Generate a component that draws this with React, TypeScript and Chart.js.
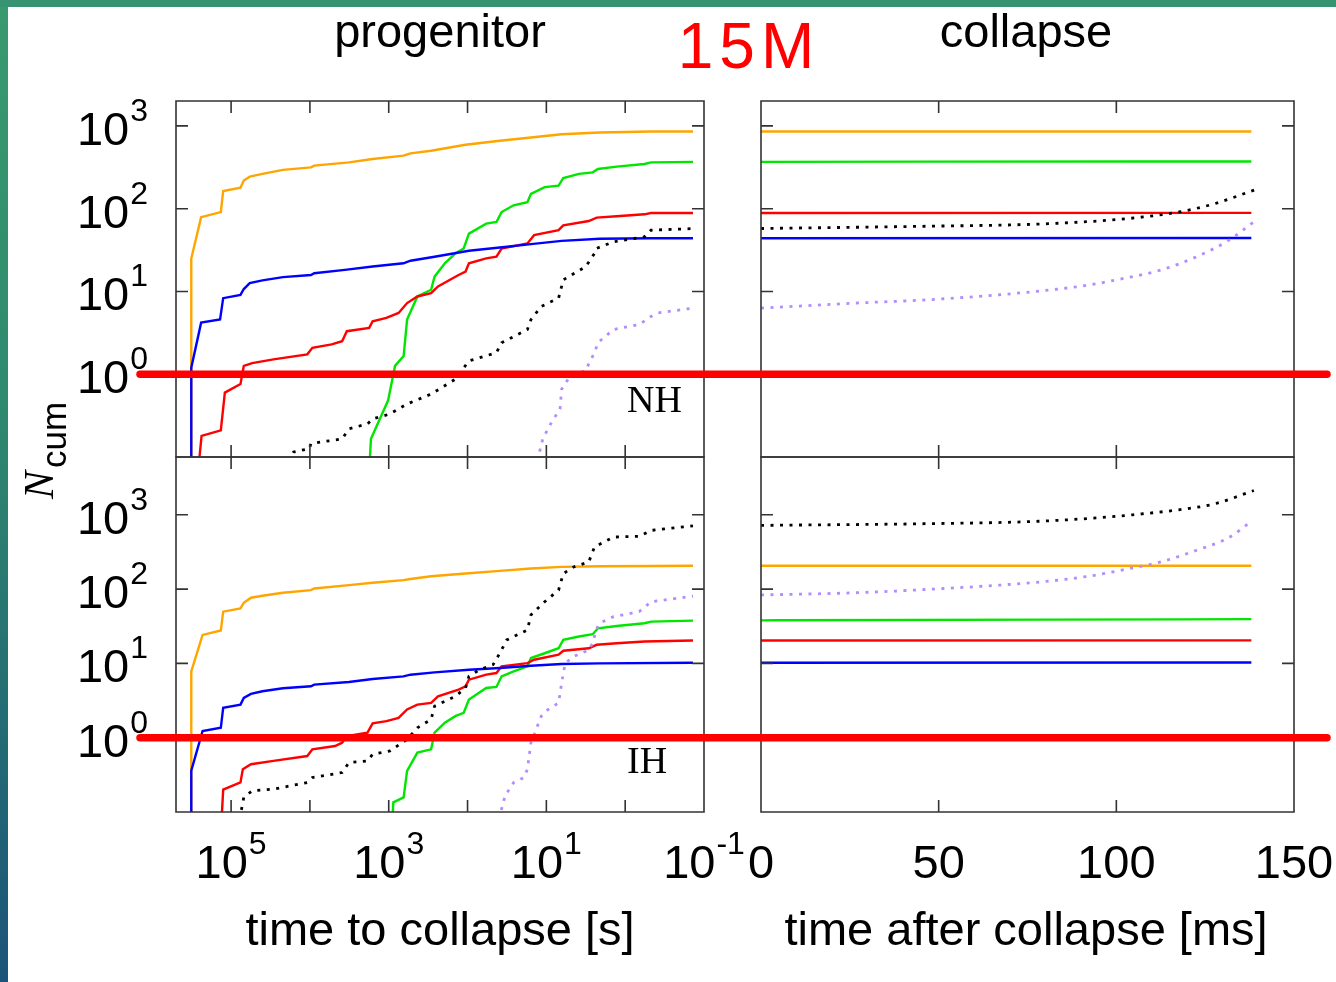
import React, { useEffect, useRef } from 'react';
import { Chart, registerables } from 'chart.js';

Chart.register(...registerables);

const PAGE_W = 1336;
const PAGE_H = 982;

type Pt = [number, number];

// ---------- ticks and ranges ----------
const LEFT_X_TICKS = [1e5, 1e4, 1e3, 1e2, 1e1, 1e0];
const LEFT_X_LABELS = [1e5, 1e3, 1e1, 1e-1];
const RIGHT_X_TICKS = [50, 100];
const RIGHT_X_LABELS = [0, 50, 100, 150];
const Y_TICKS = [1, 10, 100, 1000];
const Y_LABELS = [1, 10, 100, 1000];

const LEFT_X_MIN = 0.1;
const LEFT_X_MAX = 5e5;
const RIGHT_X_MIN = 0;
const RIGHT_X_MAX = 150;
const NH_Y_MIN = 0.1;
const NH_Y_MAX = 2000;
const IH_Y_MIN = 0.1;
const IH_Y_MAX = 6000;
const RED_MARK_VALUE = 1;

// ---------- NH, time to collapse [s] vs N_cum ----------
const NH_ORANGE_L: Pt[] = [[3.2e5, 0.05], [3.2e5, 25], [2.4e5, 79], [1.35e5, 91], [1.26e5, 163], [7.6e4, 179], [6.9e4, 219], [5.8e4, 244], [4.0e4, 263], [2.2e4, 294], [9.7e3, 316], [8.8e3, 331], [3.2e3, 363], [1.6e3, 398], [650, 437], [530, 466], [290, 501], [106, 592], [39, 661], [15.7, 724], [6.4, 794], [2.1, 832], [0.47, 855], [0.138, 855]];
const NH_BLUE_L: Pt[] = [[3.2e5, 0.05], [3.2e5, 1.2], [2.4e5, 4.2], [1.38e5, 4.6], [1.26e5, 8.3], [7.6e4, 9.1], [6.9e4, 10.7], [5.8e4, 12.6], [4.0e4, 13.6], [2.2e4, 14.9], [9.7e3, 15.8], [8.8e3, 16.6], [3.6e3, 18.2], [1.6e3, 20], [650, 21.9], [530, 23.5], [262, 26.3], [96, 31], [39, 34], [15.7, 37.3], [6.4, 40.9], [2.1, 43.3], [0.47, 44], [0.138, 44]];
const NH_RED_L: Pt[] = [[2.7e5, 0.05], [2.37e5, 0.18], [1.35e5, 0.21], [1.2e5, 0.6], [7.6e4, 0.76], [6.9e4, 1.26], [5.4e4, 1.36], [2.9e4, 1.51], [1.08e4, 1.74], [9.3e3, 2.09], [5.3e3, 2.29], [3.9e3, 2.51], [3.4e3, 3.31], [1.77e3, 3.63], [1.6e3, 4.37], [1.07e3, 4.79], [750, 5.5], [585, 7.24], [433, 8.7], [290, 9.55], [237, 11.5], [130, 15.8], [106, 17.4], [96, 21.9], [58, 25.1], [43, 26.3], [37, 33], [17.4, 38], [14.3, 47.9], [7.0, 55], [6.1, 63], [2.9, 71], [2.3, 78], [1.28, 81], [0.57, 85.5], [0.47, 88.7], [0.138, 88.7]];
const NH_GREEN_L: Pt[] = [[1.8e3, 0.05], [1.68e3, 0.166], [1.02e3, 0.48], [832, 1.26], [647, 1.66], [585, 4.57], [433, 8.7], [290, 10.5], [262, 15.1], [194, 21.9], [143, 28.8], [112, 33.1], [96, 50], [58, 66], [43, 69], [37, 91], [26, 110], [17.4, 120], [15.7, 151], [10.5, 182], [7.0, 190], [6.1, 235], [3.86, 263], [2.58, 275], [2.22, 302], [1.28, 322], [0.57, 347], [0.47, 363], [0.138, 368]];
const NH_BLACK_L: Pt[] = [[1.9e4, 0.09], [1.61e4, 0.115], [1.02e4, 0.126], [9.7e3, 0.145], [3.9e3, 0.166], [3.2e3, 0.219], [1.86e3, 0.251], [1.6e3, 0.288], [966, 0.331], [585, 0.437], [290, 0.575], [143, 0.871], [96, 1.45], [43, 1.82], [37, 2.4], [17.4, 3.47], [15.7, 4.57], [11.6, 6.6], [7.0, 8.3], [6.1, 13.8], [3.16, 20], [2.45, 28.8], [2.34, 33], [1.41, 39.8], [0.57, 45.7], [0.47, 55], [0.138, 57.5]];
const NH_PURPLE_L: Pt[] = [[13, 0.09], [11.1, 0.166], [8.6, 0.263], [6.7, 0.38], [6.4, 0.66], [4.97, 0.955], [3.16, 1.1], [2.86, 1.38], [2.45, 1.82], [2.22, 2.4], [1.41, 3.47], [0.665, 3.98], [0.47, 5.0], [0.384, 5.5], [0.138, 6.3]];

// ---------- IH, time to collapse [s] vs N_cum ----------
const IH_ORANGE_L: Pt[] = [[3.2e5, 0.05], [3.2e5, 7.8], [2.3e5, 24.2], [1.35e5, 27.7], [1.26e5, 49.7], [7.6e4, 55], [6.9e4, 65.6], [5.6e4, 76.5], [4.0e4, 81.4], [2.2e4, 89.3], [9.7e3, 97], [8.8e3, 102], [3.2e3, 113], [1.6e3, 122], [650, 132], [530, 137], [290, 149], [106, 162], [39, 176], [15.7, 189], [6.4, 199], [2.1, 203], [0.47, 205], [0.138, 206]];
const IH_BLUE_L: Pt[] = [[3.2e5, 0.05], [3.2e5, 0.36], [2.3e5, 1.23], [1.35e5, 1.36], [1.26e5, 2.52], [7.6e4, 2.79], [6.9e4, 3.43], [5.6e4, 3.88], [4.0e4, 4.22], [2.2e4, 4.63], [9.7e3, 4.92], [8.8e3, 5.18], [3.2e3, 5.62], [1.6e3, 6.17], [650, 6.7], [530, 7.05], [262, 7.57], [96, 8.2], [39, 8.66], [15.7, 9.3], [6.4, 9.8], [2.1, 10], [0.138, 10.2]];
const IH_RED_L: Pt[] = [[1.35e5, 0.05], [1.26e5, 0.2], [7.6e4, 0.25], [7.1e4, 0.377], [5.6e4, 0.44], [2.9e4, 0.487], [1.08e4, 0.567], [9.3e3, 0.698], [4.8e3, 0.773], [3.9e3, 0.857], [3.4e3, 1.05], [1.86e3, 1.17], [1.6e3, 1.56], [1.07e3, 1.67], [750, 1.85], [585, 2.4], [433, 2.79], [290, 2.94], [237, 3.61], [130, 4.44], [106, 4.92], [96, 6.04], [58, 7.05], [43, 7.42], [37, 9.12], [17.4, 10.1], [14.3, 11.2], [7.0, 13.1], [6.1, 14.8], [2.9, 16], [2.3, 17.8], [1.28, 18.7], [0.57, 19.7], [0.138, 20.3]];
const IH_GREEN_L: Pt[] = [[920, 0.05], [874, 0.135], [647, 0.157], [585, 0.358], [433, 0.63], [290, 0.698], [262, 1.17], [194, 1.59], [143, 1.95], [112, 2.16], [96, 3.26], [58, 4.67], [43, 4.82], [37, 6.7], [26, 7.8], [17.4, 9.12], [15.7, 11.8], [10.5, 13.7], [7.0, 16], [6.1, 20.7], [3.86, 23], [2.58, 24.7], [2.22, 29.7], [1.28, 31.9], [0.57, 34.7], [0.47, 36.5], [0.138, 37.7]];
const IH_BLACK_L: Pt[] = [[7.8e4, 0.08], [6.9e4, 0.157], [5.4e4, 0.193], [2.9e4, 0.203], [1.08e4, 0.249], [9.3e3, 0.291], [3.9e3, 0.34], [3.2e3, 0.462], [1.86e3, 0.487], [1.6e3, 0.598], [966, 0.663], [585, 0.95], [433, 1.36], [290, 1.76], [262, 2.66], [143, 3.61], [106, 4.67], [96, 6.7], [71, 8.2], [47.5, 9.6], [39, 13.7], [31.8, 20.7], [17.4, 28.2], [15.7, 44.9], [10.5, 67.6], [7.0, 97], [6.1, 162], [4.49, 199], [2.9, 232], [2.45, 369], [1.41, 502], [0.665, 513], [0.47, 617], [0.138, 710]];
const IH_PURPLE_L: Pt[] = [[40, 0.08], [33.4, 0.166], [26, 0.249], [19.2, 0.291], [17.4, 0.377], [15.7, 0.857], [11.6, 1.95], [9.5, 2.4], [7.0, 2.94], [6.4, 5.45], [5.77, 10.1], [4.49, 12.4], [2.9, 15.2], [2.58, 18.7], [2.34, 28.2], [2.11, 34.7], [1.41, 42.6], [0.665, 49.7], [0.47, 67.6], [0.138, 80.5]];

// ---------- NH, time after collapse [ms] ----------
const NH_ORANGE_R: Pt[] = [[0, 855], [138, 856]];
const NH_GREEN_R: Pt[] = [[0, 368], [45, 370], [138, 372]];
const NH_RED_R: Pt[] = [[0, 88.7], [138, 89]];
const NH_BLUE_R: Pt[] = [[0, 44], [138, 44.2]];
const NH_BLACK_R: Pt[] = [[0, 57.6], [47, 61.4], [77, 64.9], [97.5, 72.4], [107.5, 79.4], [117.6, 91.2], [127.7, 115], [139, 169]];
const NH_PURPLE_R: Pt[] = [[0, 6.3], [27, 7.25], [47, 7.94], [67, 9.12], [82, 10.5], [92.5, 12], [102.5, 14.5], [112.6, 18.2], [122.6, 26.3], [131.7, 41.7], [138.7, 69.2]];

// ---------- IH, time after collapse [ms] ----------
const IH_ORANGE_R: Pt[] = [[0, 206], [138, 206]];
const IH_GREEN_R: Pt[] = [[0, 38], [80, 38.8], [138, 39.4]];
const IH_RED_R: Pt[] = [[0, 20.3], [138, 20.4]];
const IH_BLUE_R: Pt[] = [[0, 10.2], [138, 10.3]];
const IH_BLACK_R: Pt[] = [[0, 721], [47.2, 760], [77.4, 816], [97.5, 932], [107.5, 1033], [117.6, 1169], [127.7, 1407], [138.7, 2122]];
const IH_PURPLE_R: Pt[] = [[0, 83.4], [27.1, 89.5], [47.2, 99.3], [67.4, 113.5], [82.4, 130], [92.5, 150], [102.5, 184], [112.6, 233], [122.6, 334], [131.7, 494], [137.7, 798]];

const COLORS = {
  orange: '#ffa500',
  green: '#00e600',
  red: '#ff0000',
  blue: '#0000ff',
  black: '#000000',
  purple: '#b48cff',
};

type SeriesSpec = { pts: Pt[]; color: string; dotted: boolean };

function seriesSet(purple: Pt[], black: Pt[], blue: Pt[], red: Pt[], green: Pt[], orange: Pt[]): SeriesSpec[] {
  return [
    { pts: purple, color: COLORS.purple, dotted: true },
    { pts: black, color: COLORS.black, dotted: true },
    { pts: blue, color: COLORS.blue, dotted: false },
    { pts: red, color: COLORS.red, dotted: false },
    { pts: green, color: COLORS.green, dotted: false },
    { pts: orange, color: COLORS.orange, dotted: false },
  ];
}

const LABEL_FONT = "47px 'Liberation Sans', Arial, sans-serif";
const SUP_FONT = "32px 'Liberation Sans', Arial, sans-serif";
const TICK_LEN = 12;

function drawPow(ctx: CanvasRenderingContext2D, v: number, x: number, baseline: number, align: string) {
  const e = Math.round(Math.log10(v));
  const base = '10';
  const sup = String(e);
  ctx.font = LABEL_FONT;
  const wb = ctx.measureText(base).width;
  ctx.font = SUP_FONT;
  const ws = ctx.measureText(sup).width;
  const total = wb + 1 + ws;
  const x0 = align === 'right' ? x - total : x - total / 2;
  ctx.textAlign = 'left';
  ctx.textBaseline = 'alphabetic';
  ctx.font = LABEL_FONT;
  ctx.fillText(base, x0, baseline);
  ctx.font = SUP_FONT;
  ctx.fillText(sup, x0 + wb + 1, baseline - 24);
}

const decorPlugin = {
  id: 'decor',
  afterDatasetsDraw(chart: any, _args: any, o: any) {
    const { ctx, chartArea: a } = chart;
    const xs = chart.scales.x;
    const ys = chart.scales.y;
    ctx.save();
    ctx.strokeStyle = '#333';
    ctx.lineWidth = 1.6;
    ctx.lineCap = 'butt';
    ctx.setLineDash([]);
    ctx.beginPath();
    ctx.rect(a.left, a.top, a.right - a.left, a.bottom - a.top);
    for (const v of o.xTicks) {
      const p = xs.getPixelForValue(v);
      ctx.moveTo(p, a.top);
      ctx.lineTo(p, a.top + TICK_LEN);
      ctx.moveTo(p, a.bottom);
      ctx.lineTo(p, a.bottom - TICK_LEN);
    }
    for (const v of o.yTicks) {
      const p = ys.getPixelForValue(v);
      ctx.moveTo(a.left, p);
      ctx.lineTo(a.left + TICK_LEN, p);
      ctx.moveTo(a.right, p);
      ctx.lineTo(a.right - TICK_LEN, p);
    }
    ctx.stroke();

    ctx.fillStyle = '#000';
    if (o.yLabels) {
      for (const v of o.yLabels) drawPow(ctx, v, a.left - 28, ys.getPixelForValue(v) + 19, 'right');
    }
    if (o.xLabels) {
      for (const v of o.xLabels) {
        const px = xs.getPixelForValue(v);
        if (o.xLog) drawPow(ctx, v, px, a.bottom + 66, 'center');
        else {
          ctx.font = LABEL_FONT;
          ctx.textAlign = 'center';
          ctx.textBaseline = 'alphabetic';
          ctx.fillText(String(v), px, a.bottom + 66);
        }
      }
    }
    if (o.tag) {
      ctx.font = "38px 'Liberation Serif', 'Times New Roman', serif";
      ctx.textAlign = 'left';
      ctx.textBaseline = 'alphabetic';
      ctx.fillText(o.tag, a.right - 77, a.bottom - o.tagLift);
    }
    if (o.redLine) {
      const y = ys.getPixelForValue(o.redLine);
      ctx.strokeStyle = '#ff0000';
      ctx.lineWidth = 7.5;
      ctx.lineCap = 'round';
      ctx.beginPath();
      ctx.moveTo(140, y);
      ctx.lineTo(1327, y);
      ctx.stroke();
    }
    ctx.restore();
  },
};

type PanelSpec = {
  area: [number, number, number, number];
  xLog: boolean;
  xMin: number;
  xMax: number;
  yMin: number;
  yMax: number;
  series: SeriesSpec[];
  xTicks: number[];
  xLabels: number[] | null;
  yLabels: number[] | null;
  tag: string | null;
  tagLift: number;
  redLine: number | null;
  z: number;
};

function buildConfig(p: PanelSpec): any {
  const [l, t, r, b] = p.area;
  return {
    type: 'line',
    data: {
      datasets: p.series.map((s) => ({
        data: s.pts.map(([x, y]) => ({ x, y })),
        borderColor: s.color,
        borderWidth: s.dotted ? 2.8 : 2.4,
        borderDash: s.dotted ? [3, 6.5] : [],
        borderCapStyle: 'butt',
        borderJoinStyle: 'miter',
        pointRadius: 0,
        fill: false,
        tension: 0,
        cubicInterpolationMode: p.xLog ? 'default' : 'monotone',
        clip: 0,
      })),
    },
    options: {
      animation: false,
      responsive: false,
      maintainAspectRatio: false,
      devicePixelRatio: 1,
      events: [],
      layout: { padding: { left: l, top: t, right: PAGE_W - r, bottom: PAGE_H - b } },
      plugins: {
        legend: { display: false },
        tooltip: { enabled: false },
        title: { display: false },
        decor: {
          xTicks: p.xTicks,
          yTicks: Y_TICKS,
          xLabels: p.xLabels,
          yLabels: p.yLabels,
          xLog: p.xLog,
          tag: p.tag,
          tagLift: p.tagLift,
          redLine: p.redLine,
        },
      },
      scales: {
        x: {
          type: p.xLog ? 'logarithmic' : 'linear',
          reverse: p.xLog,
          min: p.xMin,
          max: p.xMax,
          display: false,
        },
        y: {
          type: 'logarithmic',
          min: p.yMin,
          max: p.yMax,
          display: false,
        },
      },
    },
    plugins: [decorPlugin],
  };
}

const PANELS: PanelSpec[] = [
  {
    area: [761, 101, 1294, 457], xLog: false, xMin: RIGHT_X_MIN, xMax: RIGHT_X_MAX, yMin: NH_Y_MIN, yMax: NH_Y_MAX,
    series: seriesSet(NH_PURPLE_R, NH_BLACK_R, NH_BLUE_R, NH_RED_R, NH_GREEN_R, NH_ORANGE_R),
    xTicks: RIGHT_X_TICKS, xLabels: null, yLabels: null, tag: null, tagLift: 0, redLine: null, z: 1,
  },
  {
    area: [761, 457, 1294, 812], xLog: false, xMin: RIGHT_X_MIN, xMax: RIGHT_X_MAX, yMin: IH_Y_MIN, yMax: IH_Y_MAX,
    series: seriesSet(IH_PURPLE_R, IH_BLACK_R, IH_BLUE_R, IH_RED_R, IH_GREEN_R, IH_ORANGE_R),
    xTicks: RIGHT_X_TICKS, xLabels: RIGHT_X_LABELS, yLabels: null, tag: null, tagLift: 0, redLine: null, z: 1,
  },
  {
    area: [176, 101, 704, 457], xLog: true, xMin: LEFT_X_MIN, xMax: LEFT_X_MAX, yMin: NH_Y_MIN, yMax: NH_Y_MAX,
    series: seriesSet(NH_PURPLE_L, NH_BLACK_L, NH_BLUE_L, NH_RED_L, NH_GREEN_L, NH_ORANGE_L),
    xTicks: LEFT_X_TICKS, xLabels: null, yLabels: Y_LABELS, tag: 'NH', tagLift: 45, redLine: RED_MARK_VALUE, z: 2,
  },
  {
    area: [176, 457, 704, 812], xLog: true, xMin: LEFT_X_MIN, xMax: LEFT_X_MAX, yMin: IH_Y_MIN, yMax: IH_Y_MAX,
    series: seriesSet(IH_PURPLE_L, IH_BLACK_L, IH_BLUE_L, IH_RED_L, IH_GREEN_L, IH_ORANGE_L),
    xTicks: LEFT_X_TICKS, xLabels: LEFT_X_LABELS, yLabels: Y_LABELS, tag: 'IH', tagLift: 39, redLine: RED_MARK_VALUE, z: 3,
  },
];

function Panel({ spec }: { spec: PanelSpec }) {
  const ref = useRef<HTMLCanvasElement>(null);
  useEffect(() => {
    if (!ref.current) return;
    const chart = new Chart(ref.current, buildConfig(spec));
    return () => chart.destroy();
  }, [spec]);
  return (
    <canvas
      ref={ref}
      width={PAGE_W}
      height={PAGE_H}
      style={{ position: 'absolute', left: 0, top: 0, width: PAGE_W, height: PAGE_H, zIndex: spec.z }}
    />
  );
}

function Txt({ x, baseline, size, color = '#000', spacing = 0, children }: any) {
  return (
    <div
      style={{
        position: 'absolute',
        left: x,
        top: baseline - 0.8465 * size,
        fontFamily: "'Liberation Sans', Arial, sans-serif",
        fontSize: size,
        lineHeight: `${size}px`,
        color,
        letterSpacing: spacing,
        whiteSpace: 'nowrap',
        transform: 'translateX(-50%)',
        zIndex: 5,
      }}
    >
      {children}
    </div>
  );
}

export default function App() {
  return (
    <div style={{ position: 'fixed', left: 0, top: 0, width: PAGE_W, height: PAGE_H, background: '#ffffff', overflow: 'hidden' }}>
      <div style={{ position: 'absolute', left: 0, top: 0, width: 8, height: PAGE_H, background: 'linear-gradient(#3a9a6e 0%, #2f8a6e 40%, #1c5479 100%)', zIndex: 6 }} />
      <div style={{ position: 'absolute', left: 0, top: 0, width: PAGE_W, height: 7, background: '#389372', zIndex: 6 }} />
      {PANELS.map((p, i) => (
        <Panel key={i} spec={p} />
      ))}
      <Txt x={440} baseline={47} size={47}>progenitor</Txt>
      <Txt x={1026} baseline={47} size={47}>collapse</Txt>
      <Txt x={749} baseline={68} size={64} color="#ff0000" spacing={6}>15M</Txt>
      <Txt x={440} baseline={945} size={47}>time to collapse [s]</Txt>
      <Txt x={1026} baseline={945} size={47}>time after collapse [ms]</Txt>
      <div
        style={{
          position: 'absolute',
          left: 18,
          top: 499,
          transformOrigin: '0 0',
          transform: 'rotate(-90deg)',
          whiteSpace: 'nowrap',
          fontFamily: "'Liberation Serif', 'Times New Roman', serif",
          fontStyle: 'italic',
          fontSize: 42,
          lineHeight: '42px',
          color: '#000',
          zIndex: 5,
        }}
      >
        <span>N</span>
        <span
          style={{
            fontFamily: "'Liberation Sans', Arial, sans-serif",
            fontStyle: 'normal',
            fontSize: 35,
            lineHeight: '42px',
            position: 'relative',
            top: 13,
            marginLeft: 3,
          }}
        >
          cum
        </span>
      </div>
    </div>
  );
}
